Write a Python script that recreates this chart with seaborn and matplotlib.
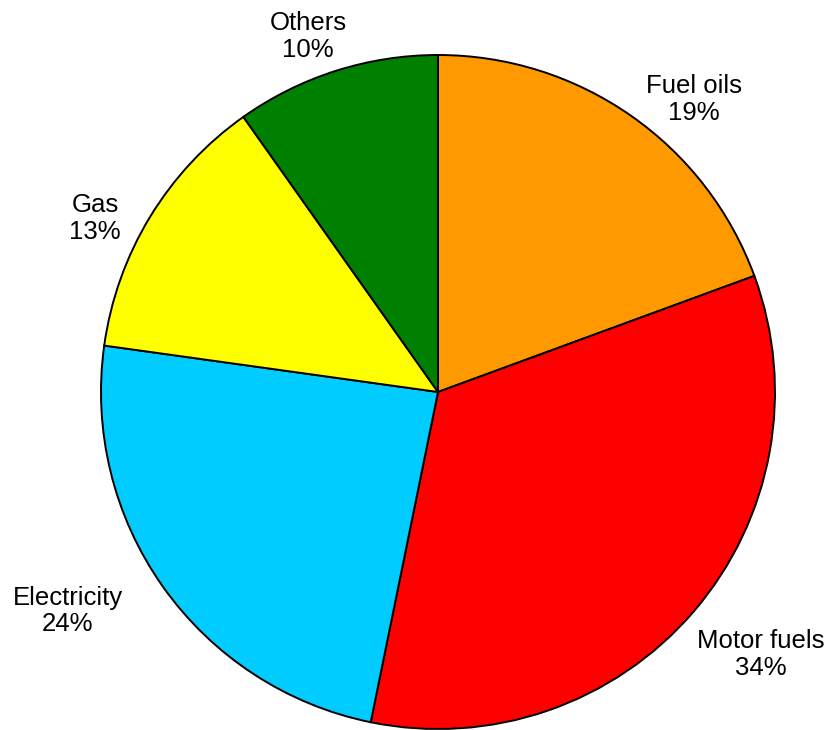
import matplotlib
matplotlib.use("Agg")
import matplotlib.pyplot as plt
import seaborn as sns

# shares (labels show rounded values)
categories = ["Fuel oils", "Motor fuels", "Electricity", "Gas", "Others"]
shares = [19.4, 33.8, 24.0, 13.0, 9.8]
colors = ["#FF9900", "#FF0000", "#00CCFF", "#FFFF00", "#008000"]

# label centres in pie units (radius = 1)
label_xy = [(0.760, 0.869), (0.958, -0.780), (-1.098, -0.650), (-1.018, 0.516), (-0.386, 1.056)]

sns.set_theme(style="white")
plt.rcParams["font.family"] = ["Liberation Sans", "DejaVu Sans"]

fig = plt.figure(figsize=(8.32, 7.3), dpi=100)
cx, cy, r = 438, 392, 337
ax = fig.add_axes([(cx - r) / 832, (730 - cy - r) / 730, 2 * r / 832, 2 * r / 730])

wedges, _ = ax.pie(
    shares,
    colors=colors,
    startangle=90,
    counterclock=False,
    radius=1,
    wedgeprops=dict(edgecolor="black", linewidth=1.4),
)
ax.set_xlim(-1, 1)
ax.set_ylim(-1, 1)
ax.set_aspect("equal")
ax.axis("off")

for name, v, (x, y) in zip(categories, shares, label_xy):
    ax.text(x, y, f"{name}\n{v:.0f}%", ha="center", va="center",
            fontsize=18.5, color="black", linespacing=1.15, clip_on=False)

fig.savefig("out.png", dpi=100)
